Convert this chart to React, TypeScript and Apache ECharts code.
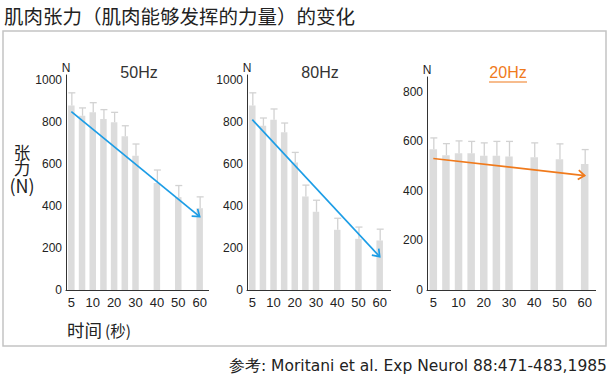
import React, { useEffect, useRef } from 'react';
import * as echarts from 'echarts';

// 13 time slots on the x axis (seconds); only some carry labels
const times = ['5', '7.5', '10', '15', '20', '25', '30', '35', '40', '45', '50', '55', '60'];
const tickLabels = ['5', '10', '20', '30', '40', '50', '60'];

const panelTitles = ['50Hz', '80Hz', '20Hz'];

const hz50 = [880, 831, 847, 815, 800, 733, 640, null, 510, null, 443, null, 390];
const hz50Err = [940, 868, 893, 860, 847, 783, 696, null, 572, null, 498, null, 444];
const hz80 = [880, 783, 812, 752, 608, 446, 373, null, 287, null, 244, null, 236];
const hz80Err = [940, 820, 863, 796, 656, 500, 428, null, 342, null, 300, null, 290];
const hz20 = [568, 544, 552, 552, 542, 542, 539, null, 536, null, 528, null, 509];
const hz20Err = [614, 591, 602, 600, 594, 600, 600, null, 594, null, 590, null, 567];

// trend arrows: [start value at first slot, end value at last slot]
const trend50 = [850, 350];
const trend80 = [812, 159];
const trend20 = [531, 462];

const yMax = [1025, 1025, 860];

const BAR = '#dcdcdc';
const ERR = '#d2d2d2';
const BLUE = '#1c9de6';
const ORANGE = '#f07a1c';
const TXT = '#222';

function errRender(params: any, api: any) {
  const i = api.value(0);
  const a = api.coord([i, api.value(1)]);
  const b = api.coord([i, api.value(2)]);
  return {
    type: 'group',
    children: [
      { type: 'line', shape: { x1: a[0] + 0.5, y1: a[1], x2: b[0] + 0.5, y2: b[1] }, style: { stroke: ERR, lineWidth: 1.3 } },
      { type: 'line', shape: { x1: b[0] - 3, y1: b[1], x2: b[0] + 4, y2: b[1] }, style: { stroke: ERR, lineWidth: 1.3 } },
    ],
  };
}

function arrowRender(color: string) {
  return (params: any, api: any) => {
    const p0 = api.coord([api.value(0), api.value(1)]);
    const p1 = api.coord([api.value(2), api.value(3)]);
    const ang = Math.atan2(p1[1] - p0[1], p1[0] - p0[0]);
    const L = 8;
    const s = Math.PI / 5;
    const h1 = [p1[0] - L * Math.cos(ang - s), p1[1] - L * Math.sin(ang - s)];
    const h2 = [p1[0] - L * Math.cos(ang + s), p1[1] - L * Math.sin(ang + s)];
    return {
      type: 'group',
      children: [
        { type: 'line', shape: { x1: p0[0], y1: p0[1], x2: p1[0], y2: p1[1] }, style: { stroke: color, lineWidth: 1.7 } },
        { type: 'polyline', shape: { points: [h1, p1, h2] }, style: { stroke: color, lineWidth: 1.7, fill: 'none' } },
      ],
    };
  };
}

const grids = [
  { left: 66, top: 75, width: 139, height: 215 },
  { left: 247, top: 75, width: 138, height: 215 },
  { left: 427, top: 77, width: 164, height: 213 },
];

export default function App() {
  const ref = useRef<HTMLDivElement>(null);
  useEffect(() => {
    if (!ref.current) return;
    const chart = echarts.init(ref.current, null, { renderer: 'svg' });
    const values = [hz50, hz80, hz20];
    const errs = [hz50Err, hz80Err, hz20Err];
    const trends = [trend50, trend80, trend20];
    const colors = [BLUE, BLUE, ORANGE];

    const xAxis = grids.map((g, k) => ({
      type: 'category',
      gridIndex: k,
      data: times,
      boundaryGap: true,
      axisLine: { lineStyle: { color: '#333', width: 1 } },
      axisTick: { show: false },
      axisLabel: {
        interval: 0,
        margin: 6,
        fontSize: 13,
        color: TXT,
        fontFamily: 'Liberation Sans',
        formatter: (v: string) => (tickLabels.includes(v) ? v : ''),
      },
    }));
    const yAxis = grids.map((g, k) => ({
      type: 'value',
      gridIndex: k,
      min: 0,
      max: yMax[k],
      interval: 200,
      name: 'N',
      nameLocation: 'end',
      nameGap: 1,
      nameTextStyle: { fontSize: 12, color: TXT, fontFamily: 'Liberation Sans', align: 'center' },
      axisLine: { show: true, lineStyle: { color: '#333', width: 1 } },
      axisTick: { show: false },
      splitLine: { show: false },
      axisLabel: {
        fontSize: 12,
        color: TXT,
        margin: 4,
        showMaxLabel: false,
        fontFamily: 'Liberation Sans',
        formatter: (v: number) => String(v),
      },
    }));

    const series: any[] = [];
    grids.forEach((g, k) => {
      series.push({
        type: 'bar',
        xAxisIndex: k,
        yAxisIndex: k,
        data: values[k],
        barWidth: k === 2 ? 7.5 : 6.5,
        itemStyle: { color: BAR },
        z: 1,
      });
      series.push({
        type: 'custom',
        xAxisIndex: k,
        yAxisIndex: k,
        renderItem: errRender,
        encode: { x: 0, y: [1, 2] },
        data: values[k]
          .map((v, i) => (v == null ? null : [i, v, errs[k][i]]))
          .filter((d) => d != null),
        z: 2,
      });
      series.push({
        type: 'custom',
        xAxisIndex: k,
        yAxisIndex: k,
        renderItem: arrowRender(colors[k]),
        encode: { x: [0, 2], y: [1, 3] },
        data: [[0, trends[k][0], times.length - 1, trends[k][1]]],
        z: 3,
      });
    });

    const titleX = [139, 320, 508];
    const graphic: any[] = [
      {
        type: 'rect',
        shape: { x: 3, y: 31, width: 603, height: 315 },
        style: { fill: 'none', stroke: '#c4c4c4', lineWidth: 1.5 },
        z: -1,
      },
      {
        type: 'text',
        x: 4,
        y: 15,
        style: { text: '肌肉张力（肌肉能够发挥的力量）的变化', fontSize: 19.5, fill: TXT, fontFamily: 'Noto Sans CJK SC', verticalAlign: 'middle' },
      },
      ...panelTitles.map((t, k) => ({
        type: 'text',
        x: titleX[k],
        y: 72,
        style: {
          text: t,
          fontSize: 16,
          fill: k === 2 ? ORANGE : '#333',
          fontFamily: 'Liberation Sans',
          align: 'center',
          verticalAlign: 'middle',
        },
      })),
      { type: 'line', shape: { x1: 489, y1: 82, x2: 527, y2: 82 }, style: { stroke: ORANGE, lineWidth: 1.2 } },
      { type: 'line', shape: { x1: 205, y1: 290.5, x2: 209, y2: 290.5 }, style: { stroke: '#333', lineWidth: 1 } },
      { type: 'line', shape: { x1: 385, y1: 290.5, x2: 391, y2: 290.5 }, style: { stroke: '#333', lineWidth: 1 } },
      { type: 'line', shape: { x1: 591, y1: 290.5, x2: 596, y2: 290.5 }, style: { stroke: '#333', lineWidth: 1 } },
      {
        type: 'text',
        x: 22,
        y: 169,
        style: {
          text: '{a|张}\n{a|力}\n{b|(N)}',
          fill: TXT,
          fontFamily: 'Noto Sans CJK SC',
          align: 'center',
          verticalAlign: 'middle',
          rich: {
            a: { fontSize: 16.5, lineHeight: 16, fontFamily: 'Noto Sans CJK SC', fill: TXT, align: 'center' },
            b: { fontSize: 18, lineHeight: 19, fontFamily: 'Noto Sans CJK SC', fill: TXT, align: 'center' },
          },
        },
      },
      { type: 'text', x: 67, y: 329, style: { text: '时间', fontSize: 17.5, fill: TXT, fontFamily: 'Noto Sans CJK SC', verticalAlign: 'middle' } },
      { type: 'text', x: 105, y: 330, style: { text: '(秒)', fontSize: 15.5, fill: TXT, fontFamily: 'Noto Sans CJK SC', verticalAlign: 'middle' } },
      {
        type: 'text',
        x: 607,
        y: 366,
        style: {
          text: '参考: Moritani et al. Exp Neurol 88:471-483,1985',
          fontSize: 15.5,
          fill: TXT,
          fontFamily: 'DejaVu Sans',
          align: 'right',
          verticalAlign: 'middle',
        },
      },
    ];

    chart.setOption({
      animation: false,
      backgroundColor: '#fff',
      grid: grids,
      xAxis,
      yAxis,
      series,
      graphic,
    });
    return () => chart.dispose();
  }, []);
  return <div ref={ref} style={{ position: 'fixed', left: 0, top: 0, width: 613, height: 380 }} />;
}
